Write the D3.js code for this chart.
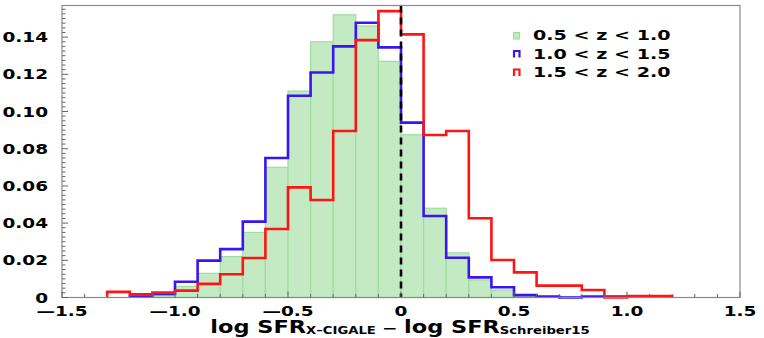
<!DOCTYPE html>
<html>
<head>
<meta charset="utf-8">
<script src="https://cdn.jsdelivr.net/npm/d3@7"></script>
<style>
  body { margin: 0; background: #fff; }
  svg { display: block; }
  text { font-family: "DejaVu Sans", sans-serif; font-weight: bold; }
</style>
</head>
<body>
<svg id="chart" width="764" height="338"></svg>
<script>
// bins are 0.1 wide, starting at binStart
var binStart = -1.3;
var binWidth = 0.1;
// null = no bar in that bin
var greenVals = [null, null, 0.001, 0.006, 0.013, 0.022, 0.035, 0.070, 0.111, 0.1375, 0.152, 0.146, 0.127,
                 0.0875, 0.048, 0.024, 0.0094, 0.004, 0.0008, 0.0004, 0.0004, null, null, null, null];
var blueVals  = [null, 0.0005, 0.0019, 0.0085, 0.0198, 0.026, 0.0408, 0.075, 0.1085, 0.121, 0.135, 0.1477, 0.1345,
                 0.094, 0.0438, 0.0214, 0.0108, 0.0055, 0.0013, 0.0005, 0, 0.0005, 0.0005, null, null];
var redVals   = [0.003, 0.0017, 0.0026, 0.0037, 0.0073, 0.0125, 0.0212, 0.0368, 0.0592, 0.0524, 0.0895, 0.1384, 0.154,
                 0.1415, 0.0874, 0.0895, 0.0426, 0.0202, 0.0135, 0.0064, 0.0064, 0.004, 0, 0.0008, 0.0008];
var legendLabels = ["0.5 < z < 1.0", "1.0 < z < 1.5", "1.5 < z < 2.0"];
var xTicks = [-1.5, -1.0, -0.5, 0, 0.5, 1.0, 1.5];
var yTicks = [0, 0.02, 0.04, 0.06, 0.08, 0.10, 0.12, 0.14];

var plotLeft = 62, plotRight = 740, plotTop = 5.5, plotBottom = 297.5;
var sx = 1.32; // text looks stretched sideways

var svg = d3.select("#chart");
var x = d3.scaleLinear().domain([-1.5, 1.5]).range([plotLeft, plotRight]);
var y = d3.scaleLinear().domain([0, 0.157]).range([plotBottom, plotTop]);

function binsOf(vals) {
    var out = [];
    vals.forEach(function(v, i) {
        if (v !== null) out.push({x0: binStart + i * binWidth, x1: binStart + (i + 1) * binWidth, v: v});
    });
    return out;
}

function stepPath(vals) {
    var b = binsOf(vals);
    var p = "M" + x(b[0].x0) + "," + y(0);
    b.forEach(function(d) {
        p += "L" + x(d.x0) + "," + y(d.v) + "L" + x(d.x1) + "," + y(d.v);
    });
    p += "L" + x(b[b.length - 1].x1) + "," + y(0);
    return p;
}

function stretchedText(g, px, py, str, size, anchor) {
    return g.append("g")
        .attr("transform", "translate(" + px + "," + py + ") scale(" + sx + ",1)")
        .append("text")
        .attr("font-size", size)
        .attr("text-anchor", anchor || "start")
        .attr("fill", "#000")
        .text(str);
}

// green filled histogram
svg.append("g").selectAll("rect")
    .data(binsOf(greenVals))
    .enter().append("rect")
    .attr("x", function(d) { return x(d.x0); })
    .attr("y", function(d) { return y(d.v); })
    .attr("width", function(d) { return x(d.x1) - x(d.x0); })
    .attr("height", function(d) { return y(0) - y(d.v); })
    .attr("fill", "#c4eac4")
    .attr("stroke", "#9fdc9f")
    .attr("stroke-width", 1.2);

svg.append("path").attr("d", stepPath(blueVals))
    .attr("fill", "none").attr("stroke", "#3a14f2").attr("stroke-width", 2.6);
svg.append("path").attr("d", stepPath(redVals))
    .attr("fill", "none").attr("stroke", "#ff1414").attr("stroke-width", 2.6);

// dashed line at zero
svg.append("line")
    .attr("x1", x(0)).attr("x2", x(0))
    .attr("y1", plotTop).attr("y2", plotBottom)
    .attr("stroke", "#000").attr("stroke-width", 2.6)
    .attr("stroke-dasharray", "7,5");

// frame
svg.append("rect")
    .attr("x", plotLeft).attr("y", plotTop)
    .attr("width", plotRight - plotLeft).attr("height", plotBottom - plotTop)
    .attr("fill", "none").attr("stroke", "#8a8a8a").attr("stroke-width", 1.2);

// x ticks (inside)
var xMinor = d3.range(-15, 16).map(function(k) { return k / 10; });
svg.append("g").selectAll("line")
    .data(xMinor)
    .enter().append("line")
    .attr("x1", function(d) { return x(d); }).attr("x2", function(d) { return x(d); })
    .attr("y1", plotBottom)
    .attr("y2", function(d, i) { return plotBottom - (i % 5 === 0 ? 6 : 3.5); })
    .attr("stroke", "#666").attr("stroke-width", 1);

// y ticks (inside)
var yMinor = d3.range(0, 63).map(function(k) { return k * 0.0025; });
svg.append("g").selectAll("line")
    .data(yMinor)
    .enter().append("line")
    .attr("y1", function(d) { return y(d); }).attr("y2", function(d) { return y(d); })
    .attr("x1", plotLeft)
    .attr("x2", function(d, i) { return plotLeft + (i % 8 === 0 ? 6 : 3.5); })
    .attr("stroke", "#666").attr("stroke-width", 1);

var labels = svg.append("g");
yTicks.forEach(function(t) {
    var s = t === 0 ? "0" : d3.format(".2f")(t);
    stretchedText(labels, 48, y(t) + 5, s, 14, "end");
});
xTicks.forEach(function(t) {
    var s = t === 0 ? "0" : (t < 0 ? "\u2014" : "") + d3.format(".1f")(Math.abs(t));
    stretchedText(labels, x(t), 315.5, s, 14, "middle");
});

// x axis title
var title = labels.append("g")
    .attr("transform", "translate(400,333) scale(" + sx + ",1)")
    .append("text").attr("font-size", 17).attr("text-anchor", "middle");
title.append("tspan").text("log SFR");
title.append("tspan").attr("font-size", 10).attr("dy", 1).text("X\u2013CIGALE");
title.append("tspan").attr("font-size", 14).attr("dy", -1).text(" \u2212 ");
title.append("tspan").text("log SFR");
title.append("tspan").attr("font-size", 10).attr("dy", 1).text("Schreiber15");

// legend
var legendColors = [{fill: "#c4eac4", stroke: "#9fdc9f"}, {fill: "none", stroke: "#3a14f2"}, {fill: "none", stroke: "#ff1414"}];
var legendY = [40, 58.5, 77];
legendLabels.forEach(function(lab, i) {
    var c = legendColors[i];
    var ly = legendY[i];
    if (i === 0) {
        svg.append("rect").attr("x", 513.5).attr("y", ly - 7.5).attr("width", 6).attr("height", 6.5)
            .attr("fill", c.fill).attr("stroke", c.stroke).attr("stroke-width", 1.2);
    } else {
        svg.append("path")
            .attr("d", "M514," + (ly - 1) + "V" + (ly - 7.5) + "H519.5V" + (ly - 1))
            .attr("fill", "none").attr("stroke", c.stroke).attr("stroke-width", 2.2);
    }
    stretchedText(svg, 533, ly, lab, 14.5, "start");
});
</script>
</body>
</html>
